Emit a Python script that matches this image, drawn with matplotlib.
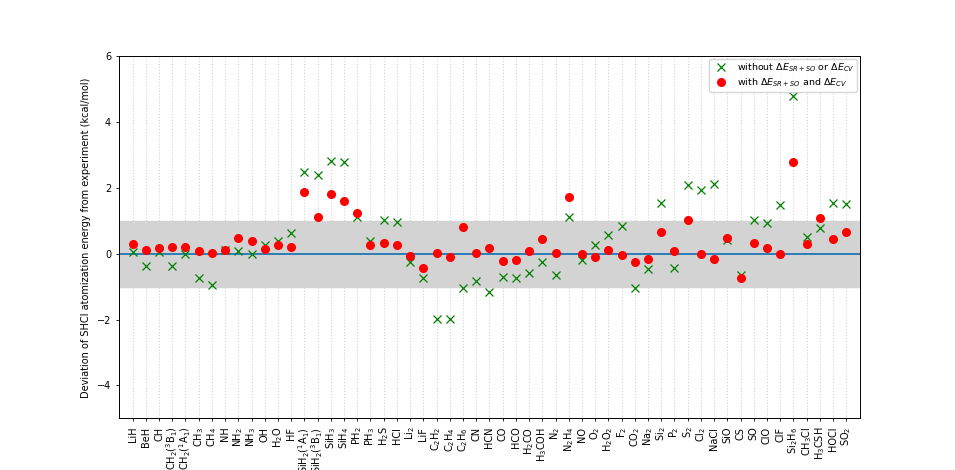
import matplotlib
matplotlib.use("Agg")
import matplotlib.pyplot as plt
import numpy as np

molecules = [
    "LiH", "BeH", "CH", r"CH$_2$($^3$B$_1$)", r"CH$_2$($^1$A$_1$)", r"CH$_3$", r"CH$_4$",
    "NH", r"NH$_2$", r"NH$_3$", "OH", r"H$_2$O", "HF", r"SiH$_2$($^1$A$_1$)",
    r"SiH$_2$($^3$B$_1$)", r"SiH$_3$", r"SiH$_4$", r"PH$_2$", r"PH$_3$", r"H$_2$S", "HCl",
    r"Li$_2$", "LiF", r"C$_2$H$_2$", r"C$_2$H$_4$", r"C$_2$H$_6$", "CN", "HCN", "CO", "HCO",
    r"H$_2$CO", r"H$_3$COH", r"N$_2$", r"N$_2$H$_4$", "NO", r"O$_2$", r"H$_2$O$_2$", r"F$_2$",
    r"CO$_2$", r"Na$_2$", r"Si$_2$", r"P$_2$", r"S$_2$", r"Cl$_2$", "NaCl", "SiO", "CS", "SO",
    "ClO", "ClF", r"Si$_2$H$_6$", r"CH$_3$Cl", r"H$_3$CSH", "HOCl", r"SO$_2$",
]

without_corr = [
    0.04, -0.38, 0.04, -0.37, 0.00, -0.73, -0.96,
    0.12, 0.09, 0.00, 0.26, 0.39, 0.64, 2.48,
    2.40, 2.82, 2.79, 1.13, 0.39, 1.03, 0.96,
    -0.26, -0.75, -1.98, -1.98, -1.05, -0.82, -1.17, -0.72, -0.75,
    -0.59, -0.24, -0.64, 1.12, -0.19, 0.26, 0.57, 0.86,
    -1.03, -0.46, 1.54, -0.44, 2.10, 1.94, 2.12, 0.41, -0.65, 1.02,
    0.94, 1.48, 4.79, 0.52, 0.78, 1.55, 1.52,
]

with_corr = [
    0.30, 0.11, 0.17, 0.22, 0.22, 0.10, 0.03,
    0.13, 0.47, 0.39, 0.14, 0.27, 0.21, 1.89,
    1.12, 1.82, 1.60, 1.24, 0.26, 0.34, 0.26,
    -0.07, -0.44, 0.03, -0.11, 0.80, 0.03, 0.18, -0.22, -0.18,
    0.07, 0.45, 0.02, 1.74, 0.00, -0.11, 0.11, -0.04,
    -0.26, -0.16, 0.66, 0.08, 1.04, -0.01, -0.17, 0.47, -0.73, 0.34,
    0.18, -0.01, 2.79, 0.31, 1.08, 0.45, 0.66,
]

plt.rcParams["font.size"] = 7
plt.rcParams["axes.linewidth"] = 0.7
plt.rcParams["xtick.major.size"] = 2.5
plt.rcParams["ytick.major.size"] = 2.5
plt.rcParams["xtick.major.width"] = 0.6
plt.rcParams["ytick.major.width"] = 0.6

x = np.arange(len(molecules))

fig, ax = plt.subplots(figsize=(9.55, 4.7), dpi=100)
fig.subplots_adjust(left=0.125, right=0.9, top=0.88, bottom=0.11)

ax.axhspan(-1, 1, color="lightgray", zorder=1)
ax.axhline(0, color="C0", linewidth=1.3, zorder=2)
ax.plot(x, without_corr, "x", color="green", markersize=5.5, markeredgewidth=0.9,
        linestyle="none", label=r"without $\Delta E_{SR+SO}$ or $\Delta E_{CV}$", zorder=3)
ax.plot(x, with_corr, "o", color="red", markersize=5.5, linestyle="none",
        label=r"with $\Delta E_{SR+SO}$ and $\Delta E_{CV}$", zorder=3)

ax.set_xticks(x)
ax.set_xticklabels(molecules, rotation=90)
ax.set_xlim(-1, len(molecules))
ax.set_ylim(-5, 6)
ax.xaxis.grid(True, linestyle=":", color="lightgray", linewidth=0.8)
ax.set_ylabel("Deviation of SHCI atomization energy from experiment (kcal/mol)")
ax.legend(loc="upper right", fontsize=6.8, borderaxespad=0.25, labelspacing=0.25,
          borderpad=0.3, handletextpad=0.6)

fig.savefig("out.png", dpi=100)
